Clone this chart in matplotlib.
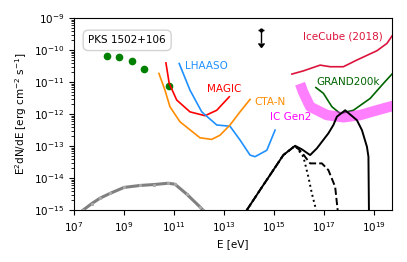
import matplotlib.pyplot as plt
import numpy as np

# observed SED points
obs_logE = [8.30, 8.78, 9.30, 9.78, 10.79]
obs_logF = [-10.19, -10.23, -10.33, -10.58, -11.13]

# upper limit
ul_logE = [14.47]
ul_logF = [-9.375]
ul_err = [2.5e-10]

# gray model (photons)
gray_logE = [7.36, 7.7, 8.03, 8.43, 9.0, 9.63, 10.2, 10.76, 11.03, 11.5, 12.03, 12.15]
gray_logF = [-15.0, -14.8, -14.63, -14.48, -14.29, -14.23, -14.2, -14.16, -14.19, -14.5, -14.9, -15.0]

# sensitivities
magic_logE = [10.67, 10.80, 11.10, 11.63, 12.23, 12.70, 13.2]
magic_logF = [-10.40, -11.04, -11.56, -11.93, -12.05, -11.88, -11.46]

lhaaso_logE = [11.2, 11.63, 12.10, 12.70, 13.23, 13.63, 14.03, 14.23, 14.7, 15.03]
lhaaso_logF = [-10.42, -11.25, -11.93, -12.34, -12.38, -12.81, -13.28, -13.33, -13.13, -12.5]

cta_logE = [10.39, 10.63, 10.83, 11.23, 12.03, 12.5, 12.83, 13.23, 13.63, 14.03]
cta_logF = [-10.73, -11.25, -11.77, -12.24, -12.74, -12.79, -12.66, -12.34, -11.93, -11.54]

icecube_logE = [15.70, 16.16, 16.83, 17.23, 17.76, 18.30, 19.1, 19.5, 19.7]
icecube_logF = [-10.75, -10.65, -10.47, -10.52, -10.52, -10.31, -10.02, -9.79, -9.56]

grand_logE = [16.66, 16.96, 17.30, 17.63, 18.16, 18.83, 19.36, 19.7]
grand_logF = [-11.17, -11.35, -11.77, -11.98, -11.88, -11.51, -11.04, -10.75]

gen2_logE = [16.03, 16.15, 16.43, 17.10, 17.76, 18.43, 19.1, 19.75]
gen2_logF = [-11.05, -11.31, -11.77, -12.03, -12.10, -12.03, -11.88, -11.74]

# neutrino models
tot_logE = [13.9, 14.43, 14.96, 15.36, 15.83, 16.1, 16.43, 16.7, 17.16, 17.36, 17.5,
            17.83, 18.30, 18.5, 18.7, 18.76, 18.78]
tot_logF = [-15.0, -14.37, -13.75, -13.28, -12.99, -13.10, -13.28, -13.07, -12.6, -12.34, -12.08,
            -11.88, -12.19, -12.5, -13.02, -13.33, -15.0]

dot_logE = [13.9, 14.43, 14.96, 15.36, 15.83, 16.16, 16.36, 16.5, 16.67]
dot_logF = [-15.0, -14.37, -13.75, -13.28, -12.99, -13.33, -13.96, -14.48, -15.0]

dash_logE = [13.9, 14.43, 14.96, 15.36, 15.83, 16.1, 16.43, 16.9, 17.16, 17.43, 17.53]
dash_logF = [-15.0, -14.37, -13.75, -13.28, -12.99, -13.2, -13.54, -13.54, -13.75, -14.27, -15.0]


def p(v):
    return 10 ** np.array(v)


plt.rcParams['font.size'] = 7.5
fig = plt.figure(figsize=(4.07, 2.62), dpi=100)
ax = fig.add_axes([0.182, 0.198, 0.781, 0.733])

ax.plot(p(gray_logE), p(gray_logF), color='gray', lw=2.2)
ax.plot(p(gray_logE), p(gray_logF), color='darkgray', lw=0, marker='s', ms=1.2)

ax.plot(p(obs_logE), p(obs_logF), 'o', color='green', ms=4.5)

ax.plot(p(magic_logE), p(magic_logF), color='red', lw=1.2)
ax.plot(p(lhaaso_logE), p(lhaaso_logF), color='dodgerblue', lw=1.2)
ax.plot(p(cta_logE), p(cta_logF), color='darkorange', lw=1.2)
ax.plot(p(icecube_logE), p(icecube_logF), color='crimson', lw=1.2)
ax.plot(p(grand_logE), p(grand_logF), color='darkgreen', lw=1.2)
ax.plot(p(gen2_logE), p(gen2_logF), color='magenta', lw=7.5, alpha=0.5,
        solid_capstyle='butt')

ax.plot(p(tot_logE), p(tot_logF), color='black', lw=1.4)
ax.plot(p(dot_logE), p(dot_logF), color='black', lw=1.4, ls=':')
ax.plot(p(dash_logE), p(dash_logF), color='black', lw=1.4, ls='--')

ax.errorbar(p(ul_logE), p(ul_logF), yerr=ul_err, uplims=True, fmt='o', ms=2,
            color='black', lw=1, capsize=2)

ax.text(10**11.43, 10**-10.5, 'LHAASO', color='dodgerblue', va='center')
ax.text(10**12.30, 10**-11.22, 'MAGIC', color='red', va='center')
ax.text(10**14.19, 10**-11.62, 'CTA-N', color='darkorange', va='center')
ax.text(10**14.83, 10**-12.09, 'IC Gen2', color='magenta', va='center')
ax.text(10**16.14, 10**-9.58, 'IceCube (2018)', color='crimson', va='center')
ax.text(10**16.70, 10**-10.99, 'GRAND200k', color='darkgreen', va='center')
ax.text(0.045, 0.91, 'PKS 1502+106', transform=ax.transAxes, va='top',
        bbox=dict(boxstyle='round,pad=0.5', fc='white', ec='lightgray'))

ax.set_xscale('log')
ax.set_yscale('log')
ax.set_xlim(1e7, 5e19)
ax.set_ylim(1e-15, 1e-9)
ax.set_xticks([1e7, 1e9, 1e11, 1e13, 1e15, 1e17, 1e19])
ax.set_xlabel('E [eV]')
ax.set_ylabel(r'E$^2$dN/dE [erg cm$^{-2}$ s$^{-1}$]')

fig.savefig('out.png', dpi=100)
